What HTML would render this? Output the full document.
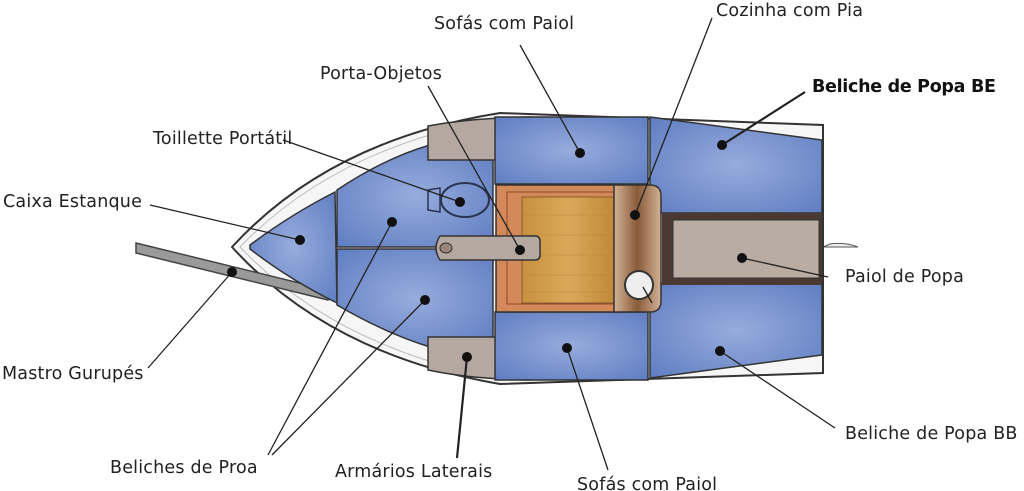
<!DOCTYPE html>
<html><head><meta charset="utf-8"><style>
html,body{margin:0;padding:0;background:#fff;}
svg{display:block}
text{font-family:"DejaVu Sans","Liberation Sans",sans-serif;font-size:17.5px;letter-spacing:0.2px;fill:#222}
</style></head><body>
<svg width="1024" height="491" viewBox="0 0 1024 491" xmlns="http://www.w3.org/2000/svg">
<defs>
<radialGradient id="bl" cx="50%" cy="50%" r="70%"><stop offset="0" stop-color="#97acdc"/><stop offset="1" stop-color="#5f7dc2"/></radialGradient>
<linearGradient id="wd" x1="0" x2="1"><stop offset="0" stop-color="#c8903e"/><stop offset=".5" stop-color="#d9a95a"/><stop offset="1" stop-color="#c08838"/></linearGradient>
<linearGradient id="gal" x1="0" x2="1"><stop offset="0" stop-color="#d2b296"/><stop offset=".5" stop-color="#8a5a38"/><stop offset="1" stop-color="#d2b296"/></linearGradient>
</defs>
<!-- rudder -->
<path d="M823,247 L858,247 Q845,242 830,244 Z" fill="#eee" stroke="#555"/>
<!-- hull -->
<path d="M232,247 Q330,140 500,113 L823,125 L823,373 L500,384 Q330,355 232,247 Z" fill="#f6f6f6" stroke="#333" stroke-width="2"/>
<path d="M240,247 Q335,148 500,118 L500,379 Q335,347 240,247 Z" fill="none" stroke="#bbb" stroke-width="1"/>
<!-- bowsprit -->
<path d="M136,243 L328,290 Q332,295 328,300 L136,253 Z" fill="#9a9a9a" stroke="#444" stroke-width="1.5"/>
<!-- bow triangle -->
<path d="M250,245 Q290,215 335,192 L337,303 Q290,280 250,249 Z" fill="url(#bl)" stroke="#333" stroke-width="1.5"/>
<!-- forward berths -->
<path d="M337,190 Q385,158 430,145 L493,145 L493,247 L337,247 Z" fill="url(#bl)" stroke="#333" stroke-width="1.5"/>
<path d="M337,249 L493,249 L493,347 L430,347 Q385,333 337,305 Z" fill="url(#bl)" stroke="#333" stroke-width="1.5"/>
<!-- lockers -->
<path d="M428,126 Q470,118 530,117 L496,160 L428,160 Z" fill="#b5a8a0" stroke="#333" stroke-width="1.5"/>
<path d="M428,337 L496,337 L530,380 Q470,379 428,370 Z" fill="#b5a8a0" stroke="#333" stroke-width="1.5"/>
<!-- sofas -->
<rect x="495" y="117" width="153" height="67" fill="url(#bl)" stroke="#333" stroke-width="1.5"/>
<rect x="495" y="312" width="153" height="68" fill="url(#bl)" stroke="#333" stroke-width="1.5"/>
<!-- aft berths -->
<path d="M650,117 L822,140 L822,213 L650,213 Z" fill="url(#bl)" stroke="#333" stroke-width="1.5"/>
<path d="M650,283 L822,283 L822,355 L650,378 Z" fill="url(#bl)" stroke="#333" stroke-width="1.5"/>
<!-- paiol popa -->
<rect x="662" y="213" width="160" height="72" fill="#4a3a32"/>
<rect x="673" y="220" width="146" height="58" fill="#b8aca3" stroke="#333"/>
<!-- sole -->
<rect x="496" y="185" width="120" height="127" fill="#d4895a" stroke="#333" stroke-width="1.5"/>
<rect x="507" y="192" width="108" height="112" fill="none" stroke="#8a4a28"/>
<rect x="522" y="197" width="93" height="106" fill="url(#wd)" stroke="#8a5a30"/>
<g stroke="#b07a34" stroke-width=".6" opacity=".6"><line x1="522" y1="215" x2="615" y2="215"/><line x1="522" y1="235" x2="615" y2="235"/><line x1="522" y1="255" x2="615" y2="255"/><line x1="522" y1="275" x2="615" y2="275"/><line x1="522" y1="292" x2="615" y2="292"/></g>
<!-- galley -->
<path d="M614,185 L650,185 Q661,185 661,196 L661,301 Q661,312 650,312 L614,312 Z" fill="url(#gal)" stroke="#333" stroke-width="1.5"/>
<circle cx="639" cy="285" r="14" fill="#eee" stroke="#333" stroke-width="2"/>
<!-- toilet -->
<ellipse cx="465" cy="200" rx="24" ry="17" fill="none" stroke="#2a3450" stroke-width="2"/>
<path d="M428,190 L440,188 L440,212 L428,210 Z" fill="none" stroke="#2a3450" stroke-width="1.5"/>
<!-- table -->
<path d="M440,236 L535,236 Q540,236 540,241 L540,255 Q540,260 535,260 L440,260 Q432,248 440,236 Z" fill="#b5a8a0" stroke="#333" stroke-width="1.5"/>
<ellipse cx="446" cy="248" rx="6" ry="5" fill="#9a8578" stroke="#333"/>
<!-- leader lines -->
<g stroke="#222" stroke-width="1.3" fill="none">
<line x1="520" y1="45" x2="580" y2="153"/>
<line x1="712" y1="18" x2="635" y2="215"/>
<line x1="428" y1="86" x2="520" y2="250"/>
<line x1="805" y1="92" x2="722" y2="145" stroke-width="2.2"/>
<line x1="283" y1="140" x2="460" y2="202"/>
<line x1="150" y1="205" x2="300" y2="240"/>
<line x1="828" y1="277" x2="742" y2="258"/>
<line x1="148" y1="368" x2="232" y2="272"/>
<line x1="835" y1="428" x2="720" y2="351"/>
<line x1="268" y1="455" x2="392" y2="222"/>
<line x1="272" y1="455" x2="425" y2="300"/>
<line x1="457" y1="458" x2="467" y2="357" stroke-width="2.2"/>
<line x1="608" y1="470" x2="567" y2="348"/>
<line x1="643" y1="287" x2="652" y2="303"/>
</g>
<g fill="#111">
<circle cx="580" cy="153" r="5"/><circle cx="635" cy="215" r="5"/><circle cx="520" cy="250" r="5"/>
<circle cx="722" cy="145" r="5"/><circle cx="460" cy="202" r="5"/><circle cx="300" cy="240" r="5"/>
<circle cx="742" cy="258" r="5"/><circle cx="232" cy="272" r="5"/><circle cx="720" cy="351" r="5"/>
<circle cx="392" cy="222" r="5"/><circle cx="425" cy="300" r="5"/><circle cx="467" cy="357" r="5"/>
<circle cx="567" cy="348" r="5"/>
</g>
<!-- labels -->
<text x="434" y="29">Sofás com Paiol</text>
<text x="716" y="16">Cozinha com Pia</text>
<text x="320" y="79">Porta-Objetos</text>
<text x="812" y="92" style="font-weight:bold;fill:#111;letter-spacing:-0.3px">Beliche de Popa BE</text>
<text x="153" y="144">Toillette Portátil</text>
<text x="3" y="207">Caixa Estanque</text>
<text x="845" y="282">Paiol de Popa</text>
<text x="2" y="379">Mastro Gurupés</text>
<text x="845" y="439">Beliche de Popa BB</text>
<text x="110" y="473">Beliches de Proa</text>
<text x="335" y="477">Armários Laterais</text>
<text x="577" y="490">Sofás com Paiol</text>
</svg>
</body></html>
